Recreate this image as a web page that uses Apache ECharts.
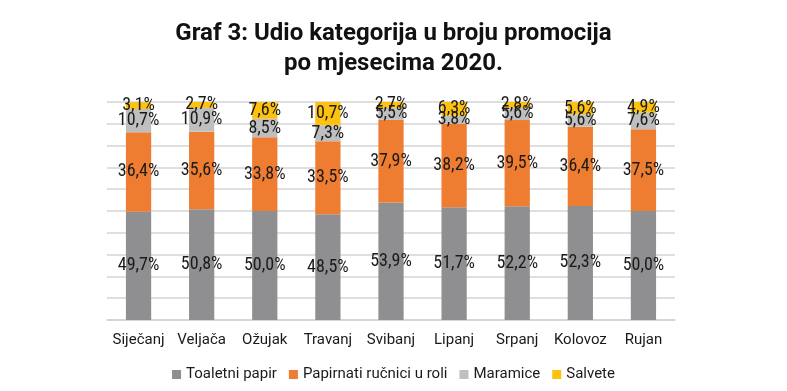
<!DOCTYPE html>
<html><head><meta charset="utf-8">
<script src="https://cdn.jsdelivr.net/npm/echarts@6/dist/echarts.min.js"></script>
<style>html,body{margin:0;padding:0;background:#fff}#c{width:787px;height:391px}</style>
</head><body><div id="c"></div>
<script>
const months = ['Siječanj','Veljača','Ožujak','Travanj','Svibanj','Lipanj','Srpanj','Kolovoz','Rujan'];
const toaletni = [49.7,50.8,50.0,48.5,53.9,51.7,52.2,52.3,50.0];
const papirnati = [36.4,35.6,33.8,33.5,37.9,38.2,39.5,36.4,37.5];
const maramice = [10.7,10.9,8.5,7.3,5.5,3.8,5.6,5.6,7.6];
const salvete = [3.1,2.7,7.6,10.7,2.7,6.3,2.8,5.6,4.9];
const seriesNames = ['Toaletni papir','Papirnati ručnici u roli','Maramice','Salvete'];
const colors = ['#8f8f92','#ee7d31','#bfbfbf','#fcc20f'];

const labelFont = '"Liberation Sans Narrow","Arial Narrow","Roboto Condensed",sans-serif';
function mk(name, data, color){
  return {
    name, type:'bar', stack:'all', data, barWidth:'40%',
    itemStyle:{color},
    label:{show:true, position:'inside', color:'#1a1a1a', fontFamily:labelFont, fontSize:18,
      formatter:p=>p.value.toFixed(1).replace('.',',')+'%'}
  };
}
const chart = echarts.init(document.getElementById('c'), null, {renderer:'canvas'});
chart.setOption({
  animation:false,
  title:{text:'Graf 3: Udio kategorija u broju promocija\npo mjesecima 2020.', left:'center', top:14,
    textStyle:{fontFamily:'Roboto', fontWeight:'bold', fontSize:24, color:'#111', lineHeight:30}},
  grid:{left:107, right:112, top:102, bottom:71},
  color:colors,
  legend:{bottom:4, left:'center', itemWidth:9, itemHeight:9, itemGap:12, icon:'rect',
    textStyle:{fontFamily:'Roboto', fontSize:15, color:'#1a1a1a'}},
  xAxis:{type:'category', data:months, axisTick:{show:false},
    axisLine:{lineStyle:{color:'#d4d4d4', width:1.5}},
    axisLabel:{interval:0, fontFamily:'Roboto', fontSize:15, color:'#1a1a1a', margin:13}},
  yAxis:{type:'value', min:0, max:100, interval:10, axisLabel:{show:false},
    splitLine:{lineStyle:{color:'#d4d4d4', width:1.5}}},
  series:[mk(seriesNames[0],toaletni,colors[0]),mk(seriesNames[1],papirnati,colors[1]),
          mk(seriesNames[2],maramice,colors[2]),mk(seriesNames[3],salvete,colors[3])]
});
</script></body></html>
